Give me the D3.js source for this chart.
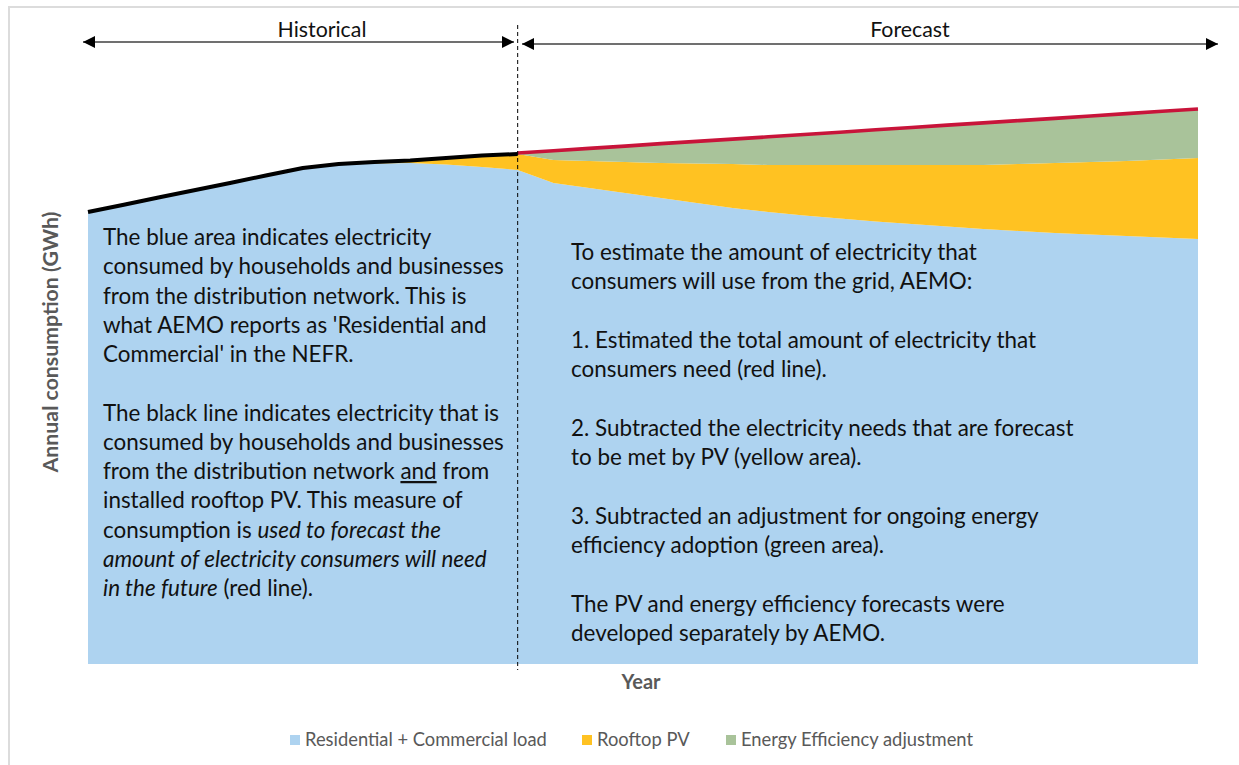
<!DOCTYPE html>
<html>
<head>
<meta charset="utf-8">
<script src="https://cdn.jsdelivr.net/npm/d3@7"></script>
<style>
  body { margin: 0; background: #fff; }
  text { font-family: Lato, "Open Sans", sans-serif; }
</style>
</head>
<body>
<svg id="chart" width="1239" height="765"></svg>
<script>
// years on the x axis (not labelled in the original)
const years = d3.range(2006, 2038);
const splitYear = 2018;

// GWh
const residential = [9617, 9772, 9930, 10085, 10240, 10398, 10553, 10617, 10649, 10660, 10628, 10575,
  10511, 10234, 10128, 10021, 9915, 9809, 9702, 9617, 9543, 9479, 9415, 9362, 9309, 9255, 9213, 9170,
  9138, 9106, 9074, 9043];
const rooftopPV = [0, 0, 0, 0, 0, 0, 0, 21, 32, 53, 138, 245,
  340, 489, 574, 660, 745, 840, 936, 1000, 1074, 1138, 1202, 1255, 1309, 1362, 1426, 1489,
  1543, 1596, 1660, 1723];
const efficiency = [0, 0, 0, 0, 0, 0, 0, 0, 0, 0, 0, 0,
  21, 198, 268, 338, 411, 470, 530, 600, 649, 698, 749, 798, 847, 896, 923, 951,
  979, 1009, 1026, 1043];

const seriesNames = ["Residential + Commercial load", "Rooftop PV", "Energy Efficiency adjustment"];
const colors = ["#aed3f0", "#ffc222", "#a9c39a"];

const leftNotes = [
  [{t: "The blue area indicates electricity"}],
  [{t: "consumed by households and businesses"}],
  [{t: "from the distribution network. This is"}],
  [{t: "what AEMO reports as 'Residential and"}],
  [{t: "Commercial' in the NEFR."}],
  null,
  [{t: "The black line indicates electricity that is"}],
  [{t: "consumed by households and businesses"}],
  [{t: "from the distribution network "}, {t: "and", u: true}, {t: " from"}],
  [{t: "installed rooftop PV. This measure of"}],
  [{t: "consumption is "}, {t: "used to forecast the", i: true}],
  [{t: "amount of electricity consumers will need", i: true}],
  [{t: "in the future", i: true}, {t: " (red line)."}]
];
const rightNotes = [
  "To estimate the amount of electricity that",
  "consumers will use from the grid, AEMO:",
  null,
  "1. Estimated the total amount of electricity that",
  "consumers need (red line).",
  null,
  "2. Subtracted the electricity needs that are forecast",
  "to be met by PV (yellow area).",
  null,
  "3. Subtracted an adjustment for ongoing energy",
  "efficiency adoption (green area).",
  null,
  "The PV and energy efficiency forecasts were",
  "developed separately by AEMO."
];

const svg = d3.select("#chart");

// scale a text's font-size so a sample string comes out at the wanted width
function fitSize(sample, size, weight, wanted) {
  const t = svg.append("text").attr("font-size", size).attr("font-weight", weight).text(sample);
  const w = t.node().getComputedTextLength();
  t.remove();
  return size * wanted / w;
}

// frame
svg.append("path")
  .attr("d", "M9,765 V7 H1239")
  .attr("fill", "none")
  .attr("stroke", "#dcdcdc")
  .attr("stroke-width", 2);

const x = d3.scaleLinear().domain([years[0], years[years.length - 1]]).range([88, 1198]);
const y = d3.scaleLinear().domain([0, 12000]).range([664, 100]);

const table = years.map((yr, i) => ({
  year: yr, res: residential[i], pv: rooftopPV[i], ee: efficiency[i]
}));

const stack = d3.stack().keys(["res", "pv", "ee"]);
const layers = stack(table);

const area = d3.area()
  .x(d => x(d.data.year))
  .y0(d => y(d[0]))
  .y1(d => y(d[1]));

svg.selectAll(".layer")
  .data(layers)
  .enter()
  .append("path")
  .attr("class", "layer")
  .attr("d", area)
  .attr("fill", (d, i) => colors[i]);

const line = d3.line()
  .x(d => x(d.year))
  .y(d => y(d.total));

// black line: load + PV (historical)
const hist = table.filter(d => d.year <= splitYear).map(d => ({year: d.year, total: d.res + d.pv}));
// red line: load + PV + efficiency (forecast)
const fc = table.filter(d => d.year >= splitYear).map(d => ({year: d.year, total: d.res + d.pv + d.ee}));

svg.append("path").datum(fc)
  .attr("d", line)
  .attr("fill", "none")
  .attr("stroke", "#c8143a")
  .attr("stroke-width", 3.6);

svg.append("path").datum(hist)
  .attr("d", line)
  .attr("fill", "none")
  .attr("stroke", "#000")
  .attr("stroke-width", 4)
  .attr("stroke-linejoin", "round");

// dashed divider
svg.append("line")
  .attr("x1", x(splitYear)).attr("x2", x(splitYear))
  .attr("y1", 25).attr("y2", 670)
  .attr("stroke", "#000")
  .attr("stroke-width", 1)
  .attr("stroke-dasharray", "4,3");

// arrows
const defs = svg.append("defs");
defs.append("marker")
  .attr("id", "head")
  .attr("viewBox", "0 0 10 10")
  .attr("refX", 10).attr("refY", 5)
  .attr("markerWidth", 12).attr("markerHeight", 12)
  .attr("markerUnits", "userSpaceOnUse")
  .attr("orient", "auto-start-reverse")
  .append("path")
  .attr("d", "M0,0 L10,5 L0,10 Z")
  .attr("fill", "#000");

const headSize = fitSize("Historical", 19, "normal", 89);
const arrows = [
  {x1: 83, x2: 514, y: 42, label: "Historical", lx: 322},
  {x1: 522, x2: 1218, y: 44, label: "Forecast", lx: 910}
];
arrows.forEach(a => {
  svg.append("line")
    .attr("x1", a.x1).attr("x2", a.x2)
    .attr("y1", a.y).attr("y2", a.y)
    .attr("stroke", "#404040")
    .attr("stroke-width", 1.5)
    .attr("marker-start", "url(#head)")
    .attr("marker-end", "url(#head)");
  svg.append("text")
    .attr("x", a.lx)
    .attr("y", 37)
    .attr("text-anchor", "middle")
    .attr("font-size", headSize)
    .attr("fill", "#111")
    .text(a.label);
});

// annotations
const noteSize = fitSize("consumed by households and businesses", 19, "normal", 401);
const left = svg.append("text")
  .attr("font-size", noteSize)
  .attr("fill", "#111");
leftNotes.forEach((ln, i) => {
  if (!ln) return;
  const row = left.append("tspan").attr("x", 103).attr("y", 245 + i * 29.25);
  ln.forEach((p, j) => {
    const s = j === 0 ? row : left.append("tspan");
    s.text(p.t)
      .attr("font-style", p.i ? "italic" : null)
      .attr("text-decoration", p.u ? "underline" : null);
  });
});

const right = svg.append("text")
  .attr("font-size", noteSize)
  .attr("fill", "#111");
rightNotes.forEach((ln, i) => {
  if (!ln) return;
  right.append("tspan").attr("x", 571).attr("y", 260 + i * 29.3).text(ln);
});

// axis titles
svg.append("text")
  .attr("transform", "translate(58,342) rotate(-90)")
  .attr("text-anchor", "middle")
  .attr("font-size", fitSize("Annual consumption (GWh)", 16, "bold", 261))
  .attr("font-weight", "bold")
  .attr("fill", "#595959")
  .text("Annual consumption (GWh)");

svg.append("text")
  .attr("x", 641).attr("y", 689)
  .attr("text-anchor", "middle")
  .attr("font-size", fitSize("Year", 16, "bold", 39))
  .attr("font-weight", "bold")
  .attr("fill", "#595959")
  .text("Year");

// legend
const legSize = fitSize("Residential + Commercial load", 16, "normal", 242);
const legendX = [290, 582, 726];
const legend = svg.selectAll(".leg")
  .data(seriesNames)
  .enter()
  .append("g")
  .attr("class", "leg")
  .attr("transform", (d, i) => `translate(${legendX[i]},740)`);
legend.append("rect")
  .attr("x", 0).attr("y", -5)
  .attr("width", 10).attr("height", 10)
  .attr("fill", (d, i) => colors[i]);
legend.append("text")
  .attr("x", 15).attr("y", 6)
  .attr("font-size", legSize)
  .attr("fill", "#595959")
  .text(d => d);
</script>
</body>
</html>
